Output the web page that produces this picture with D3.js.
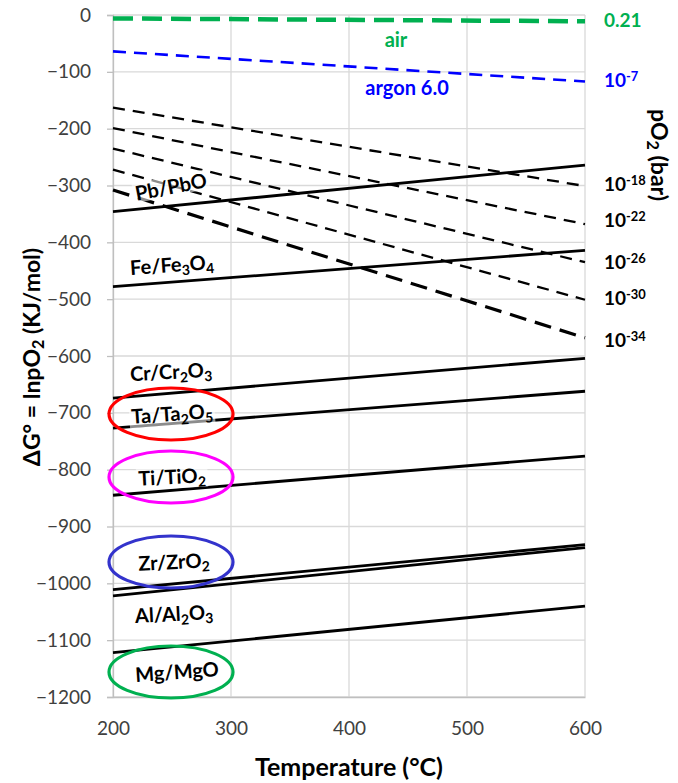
<!DOCTYPE html>
<html><head><meta charset="utf-8">
<script src="https://cdn.jsdelivr.net/npm/d3@7"></script>
<style>body{margin:0;background:#fff}</style>
</head><body>
<svg id="c" width="678" height="783"></svg>
<script>
const temps = [200, 600];
const xTicks = [200, 300, 400, 500, 600];
const yTicks = [0, -100, -200, -300, -400, -500, -600, -700, -800, -900, -1000, -1100, -1200];

// pO2 isobars (kJ/mol) at 200 and 600 °C
const gasNames = ["0.21", "10^-7", "10^-18", "10^-22", "10^-26", "10^-30", "10^-34"];
const gasStart = [-6, -64, -163, -199, -235, -272, -308];
const gasEnd = [-11, -117, -301, -368, -435, -501, -568];
const gasColors = ["#00b050", "#0000ff", "#000", "#000", "#000", "#000", "#000"];

// metal/oxide lines at 200 and 600 °C
const metalNames = ["Pb/PbO", "Fe/Fe_3O_4", "Cr/Cr_2O_3", "Ta/Ta_2O_5", "Ti/TiO_2", "Zr/ZrO_2", "Al/Al_2O_3", "Mg/MgO"];
const metalStart = [-346, -478, -674, -727, -845, -1011, -1022, -1122];
const metalEnd = [-264, -414, -604, -662, -776, -932, -937, -1040];
const ringColors = [null, null, null, "#ff0000", "#ff00ff", "#3333cc", null, "#00b050"];

const svg = d3.select("#c");
const x = d3.scaleLinear().domain([200, 600]).range([113, 585]);
const y = d3.scaleLinear().domain([-1200, 0]).range([697, 15]);
const FONT = "Lato, 'Open Sans', sans-serif";

// grid
svg.append("g").selectAll("line").data(yTicks).join("line")
  .attr("x1", x(200)).attr("x2", x(600)).attr("y1", d => y(d)).attr("y2", d => y(d))
  .attr("stroke", "#d9d9d9").attr("stroke-width", 1.3);
svg.append("g").selectAll("line").data(xTicks).join("line")
  .attr("x1", d => x(d)).attr("x2", d => x(d)).attr("y1", y(0)).attr("y2", y(-1200))
  .attr("stroke", "#d9d9d9").attr("stroke-width", 1.3);

// axes
const ya = svg.append("g").attr("transform", `translate(${x(200)},0)`)
  .call(d3.axisLeft(y).tickValues(yTicks).tickSize(6).tickPadding(16).tickFormat(d3.format("d")));
const xa = svg.append("g").attr("transform", `translate(0,${y(-1200)})`)
  .call(d3.axisBottom(x).tickValues(xTicks).tickSize(0).tickPadding(25));
[ya, xa].forEach(a => {
  a.select(".domain").attr("stroke", "#bfbfbf").attr("stroke-width", 1.3);
  a.selectAll(".tick line").attr("stroke", "#bfbfbf").attr("stroke-width", 1.3);
  a.selectAll("text").attr("font-family", FONT).attr("font-size", 19).attr("fill", "#404040");
});

// rich text helper: _d subscript, ^... superscript
function rich(sel, s) {
  const re = /(\^[-\d]+|_\d)/g;
  let last = 0, m;
  while ((m = re.exec(s)) !== null) {
    if (m.index > last) sel.append("tspan").text(s.slice(last, m.index));
    const t = m[0];
    if (t[0] === "_") sel.append("tspan").attr("baseline-shift", "-25%").attr("font-size", "70%").text(t.slice(1));
    else sel.append("tspan").attr("baseline-shift", "45%").attr("font-size", "68%").text(t.slice(1));
    last = m.index + t.length;
  }
  if (last < s.length) sel.append("tspan").text(s.slice(last));
}

const line = d3.line().x(d => x(d[0])).y(d => y(d[1]));

// gas lines
const gasDash = ["20,9", "13,8", "12,8", "12,8", "12,8", "12,8", "17,9"];
const gasW = [4.5, 2.6, 2.3, 2.3, 2.3, 2.3, 3.2];
gasNames.forEach((n, i) => {
  svg.append("path").datum([[temps[0], gasStart[i]], [temps[1], gasEnd[i]]])
    .attr("d", line).attr("fill", "none").attr("stroke", gasColors[i])
    .attr("stroke-width", gasW[i]).attr("stroke-dasharray", gasDash[i]);
});

// metal lines
metalNames.forEach((n, i) => {
  svg.append("path").datum([[temps[0], metalStart[i]], [temps[1], metalEnd[i]]])
    .attr("d", line).attr("fill", "none").attr("stroke", "#000").attr("stroke-width", 2.8);
});

// metal labels [cx, baseline y, rotation]
const labPos = [[171, 194, -11], [172, 272, -4], [171, 379, -3], [172, 421, -4], [172, 484, -3], [174, 569, -3], [174, 621, -3], [177, 679, -4]];
metalNames.forEach((n, i) => {
  const [lx, ly, r] = labPos[i];
  const g = svg.append("g").attr("transform", `rotate(${r},${lx},${ly - 7})`);
  const bg = g.append("rect");
  const t = g.append("text").attr("x", lx).attr("y", ly).attr("text-anchor", "middle")
    .attr("font-family", FONT).attr("font-weight", "bold").attr("font-size", 20).attr("fill", "#000");
  rich(t, n);
  const bb = t.node().getBBox();
  bg.attr("x", bb.x - 2).attr("y", bb.y + 2).attr("width", bb.width + 4).attr("height", bb.height - 4)
    .attr("fill", "#fff").attr("opacity", 0.55);
  if (ringColors[i]) {
    svg.append("ellipse").attr("cx", 171).attr("cy", ly - 7).attr("rx", 62).attr("ry", 26)
      .attr("fill", "none").attr("stroke", ringColors[i]).attr("stroke-width", 3.2);
  }
});

// right labels
const rightY = [27, 87, 191, 227, 269, 305, 347];
gasNames.forEach((n, i) => {
  const t = svg.append("text").attr("x", 604).attr("y", rightY[i])
    .attr("font-family", FONT).attr("font-weight", "bold").attr("font-size", 19).attr("fill", gasColors[i]);
  rich(t, n);
});

// inline gas labels
svg.append("text").attr("x", 396).attr("y", 47).attr("text-anchor", "middle")
  .attr("font-family", FONT).attr("font-weight", "bold").attr("font-size", 20).attr("fill", "#00b050").text("air");
svg.append("text").attr("x", 407).attr("y", 95).attr("text-anchor", "middle")
  .attr("font-family", FONT).attr("font-weight", "bold").attr("font-size", 20).attr("fill", "#0000ff").text("argon 6.0");

// axis titles
svg.append("text").attr("x", 349).attr("y", 776).attr("text-anchor", "middle")
  .attr("font-family", FONT).attr("font-weight", "bold").attr("font-size", 25).attr("fill", "#000")
  .text("Temperature (°C)");
const yt = svg.append("text").attr("transform", "translate(40,357) rotate(-90)").attr("text-anchor", "middle")
  .attr("font-family", FONT).attr("font-weight", "bold").attr("font-size", 23).attr("fill", "#000");
rich(yt, "ΔG° = lnpO_2 (KJ/mol)");
const rt = svg.append("text").attr("transform", "translate(651,155) rotate(90)").attr("text-anchor", "middle")
  .attr("font-family", FONT).attr("font-weight", "bold").attr("font-size", 23).attr("fill", "#000");
rich(rt, "pO_2 (bar)");
</script>
</body></html>
